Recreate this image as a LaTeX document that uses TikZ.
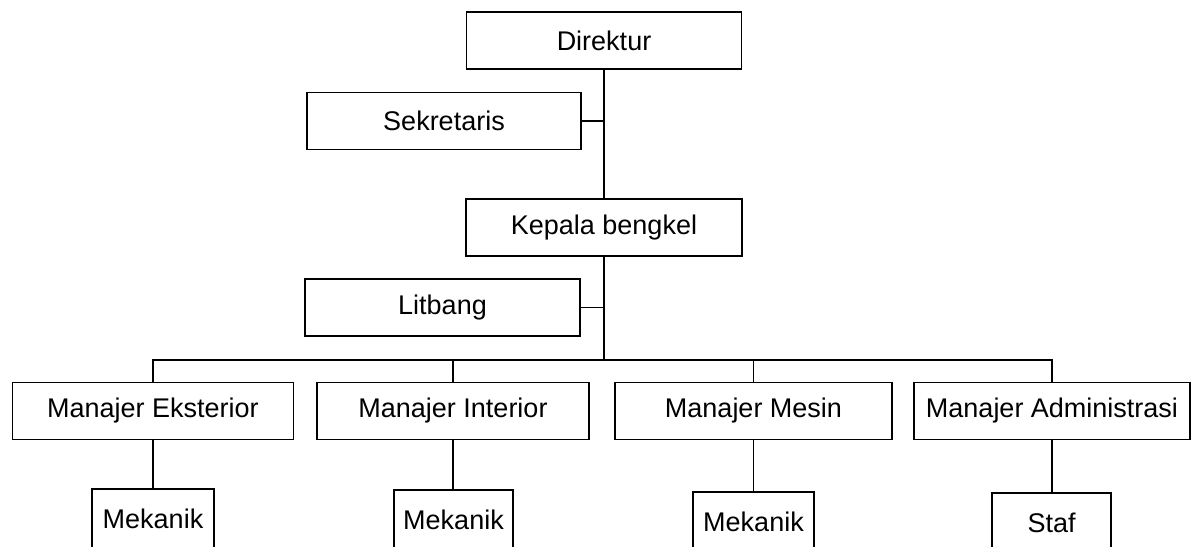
\documentclass[tikz,border=0pt]{standalone}
\usepackage{fontspec}
\setmainfont{Liberation Sans}
\usetikzlibrary{positioning}
\tikzset{x=1pt,y=-1pt}
\tikzset{box/.style={draw,line width=1.7pt,rectangle,inner sep=0pt,
        font=\fontsize{27}{32}\selectfont,minimum height=57pt},
    link/.style={line width=1.3pt}}

\begin{document}
\begin{tikzpicture}
    \useasboundingbox (0,0) rectangle (1198,546);
    \clip (0,0) rectangle (1198,546);
                \node[box,minimum width=275pt] (direktur)   at (604,40.5)  {Direktur};
                \node[box,minimum width=274pt] (sekretaris) at (444,121)   {Sekretaris};
                \node[box,minimum width=276pt] (kepala)     at (604,227.5) {Kepala bengkel};
                \node[box,minimum width=275pt] (litbang)    at (442.5,307.5) {Litbang};
                \coordinate (bus) at (604,360);
    %			manajer
                \node[box,minimum width=281pt] (eksterior)  at (153,411)   {Manajer Eksterior};
                \node[box,minimum width=272pt] (interior)   at (453,411)   {Manajer Interior};
                \node[box,minimum width=277pt] (mesin)      at (753.5,411) {Manajer Mesin};
                \node[box,minimum width=276pt] (admin)      at (1052,411)  {Manajer Administrasi};
    %			bawahan
                \node[box,minimum width=122pt,minimum height=60pt] (mekanikA) at (153,519)    {Mekanik};
                \node[box,minimum width=119pt,minimum height=60pt] (mekanikB) at (453.5,520)  {Mekanik};
                \node[box,minimum width=121pt,minimum height=60pt] (mekanikC) at (753.5,522)  {Mekanik};
                \node[box,minimum width=119pt,minimum height=60pt] (staf)     at (1051.5,523) {Staf};
            \path[link]
                    (direktur.south) edge (kepala.north)
                    (sekretaris.east) edge (sekretaris.east -| direktur.south)
                    (kepala.south) edge (bus)
                    (litbang.east) edge (litbang.east -| kepala.south)
                    ;
            \draw[link] (eksterior.north) |- (bus) -| (admin.north);
            \foreach \m in {interior,mesin}
                \draw[link] (\m.north) -- (\m.north |- bus);
            \foreach \m/\b in {eksterior/mekanikA,interior/mekanikB,mesin/mekanikC,admin/staf}
                \draw[link] (\m.south) -- (\m.south |- \b.north);
            \end{tikzpicture}
\end{document}
